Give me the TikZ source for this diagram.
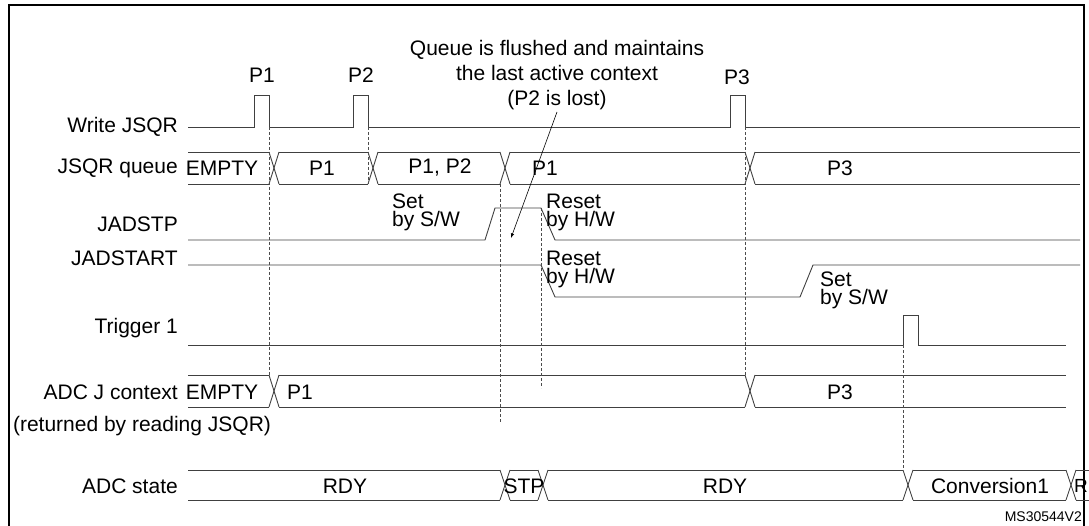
\documentclass[tikz,border=0pt]{standalone}
\usepackage{fontspec}
\setmainfont{Liberation Sans}
\begin{document}
\begin{tikzpicture}[x=1pt,y=-1pt,
  sig/.style={line width=0.9pt,color=black!75},
  guide/.style={line width=0.6pt,color=black!70,dash pattern=on 3pt off 2pt},
  txt/.style={font=\fontsize{21}{24}\selectfont,inner sep=0pt},
  lbl/.style={txt,anchor=east},
  note/.style={txt,align=left,anchor=west,font=\fontsize{21}{18}\selectfont}]
\useasboundingbox (0,0) rectangle (1089,526);
\draw[line width=1.3pt] (9,540) -- (9,5) -- (1084,5) -- (1084,540);
% labels
\node[lbl] (l1) at (178,127) {Write JSQR};
\node[lbl] (l2) at (178,168) {JSQR queue};
\node[lbl] (l3) at (178,224) {JADSTP};
\node[lbl] (l4) at (178,258) {JADSTART};
\node[lbl] (l5) at (178,328) {Trigger 1};
\node[lbl] (l6) at (178,392) {ADC J context};
\node[txt] (l6b) at (142,426) {(returned by reading JSQR)};
\node[lbl] (l7) at (178,486) {ADC state};
% Write JSQR
\draw[sig] (188,127) -- (254,127) -- (254,95) -- (269,95) -- (269,127) -- (353,127) -- (353,95) -- (368,95) -- (368,127)
  -- (730,127) -- (730,95) -- (745,95) -- (745,127) -- (1080,127);
\node[txt] (p1) at (262,75) {P1};
\node[txt] (p2) at (361,75) {P2};
\node[txt] (p3) at (737,77) {P3};
% JSQR queue
\foreach \a/\b in {188/269,279/368,378/500,510/745,755/1080}{
  \draw[sig] (\a,152) -- (\b,152); \draw[sig] (\a,184) -- (\b,184);}
\foreach \a in {269,368,500,745}{
  \draw[sig] (\a,152) -- (\a+10,184); \draw[sig] (\a,184) -- (\a+10,152);}
\node[txt] (q1) at (222,168) {EMPTY};
\node[txt] (q2) at (322,168) {P1};
\node[txt] (q3) at (440,168) {P1, P2};
\node[txt] (q4) at (545,168) {P1};
\node[txt] (q5) at (840,168) {P3};
% JADSTP
\draw[sig] (188,240) -- (485,240) -- (495,208) -- (541,208) -- (555,240) -- (1080,240);
\node[note,anchor=north west] (s1) at (392,194) {Set\\by S/W};
\node[note,anchor=north west] (r1) at (546,194) {Reset\\by H/W};
% JADSTART
\draw[sig] (188,265) -- (541,265) -- (555,297) -- (800,297) -- (813,265) -- (1080,265);
\node[note,anchor=north west] (r2) at (546,251) {Reset\\by H/W};
\node[note,anchor=north west] (s2) at (820,272) {Set\\by S/W};
% Trigger
\draw[sig] (188,345) -- (903,345) -- (903,315) -- (918,315) -- (918,345) -- (1066,345);
% ADC J context
\foreach \a/\b in {188/269,279/745,755/1066}{
  \draw[sig] (\a,375) -- (\b,375); \draw[sig] (\a,407) -- (\b,407);}
\foreach \a in {269,745}{
  \draw[sig] (\a,375) -- (\a+10,407); \draw[sig] (\a,407) -- (\a+10,375);}
\node[txt] (c1) at (222,392) {EMPTY};
\node[txt] (c2) at (300,392) {P1};
\node[txt] (c3) at (840,392) {P3};
% ADC state
\foreach \a/\b in {188/500,510/538,548/903,913/1066,1076/1089}{
  \draw[sig] (\a,470) -- (\b,470); \draw[sig] (\a,500) -- (\b,500);}
\foreach \a in {500,538,903,1066}{
  \draw[sig] (\a,470) -- (\a+10,500); \draw[sig] (\a,500) -- (\a+10,470);}
\node[txt] (a1) at (345,486) {RDY};
\node[txt] (a2) at (524,486) {STP};
\node[txt] (a3) at (725,486) {RDY};
\node[txt] (a4) at (990,486) {Conversion1};
\node[txt,anchor=west,font=\fontsize{19}{22}\selectfont] (a5) at (1074,486) {RDY};
% dashed
\draw[guide] (269,127) -- (269,375);
\draw[guide] (368,127) -- (368,184);
\draw[guide] (500,184) -- (500,422);
\draw[guide] (541,208) -- (541,388);
\draw[guide] (745,127) -- (745,375);
\draw[guide] (903,345) -- (903,470);
% annotation
\node[txt,align=center,font=\fontsize{21}{25}\selectfont] (ann) at (557,75) {Queue is flushed and maintains\\the last active context\\(P2 is lost)};
\coordinate (tip) at (511,238);
\draw[line width=0.6pt,-latex] (ann.south) ++(0,2) -- (tip);
\node[txt,font=\fontsize{14}{16}\selectfont,anchor=east] (ms) at (1082,517) {MS30544V2};
\end{tikzpicture}
\end{document}
